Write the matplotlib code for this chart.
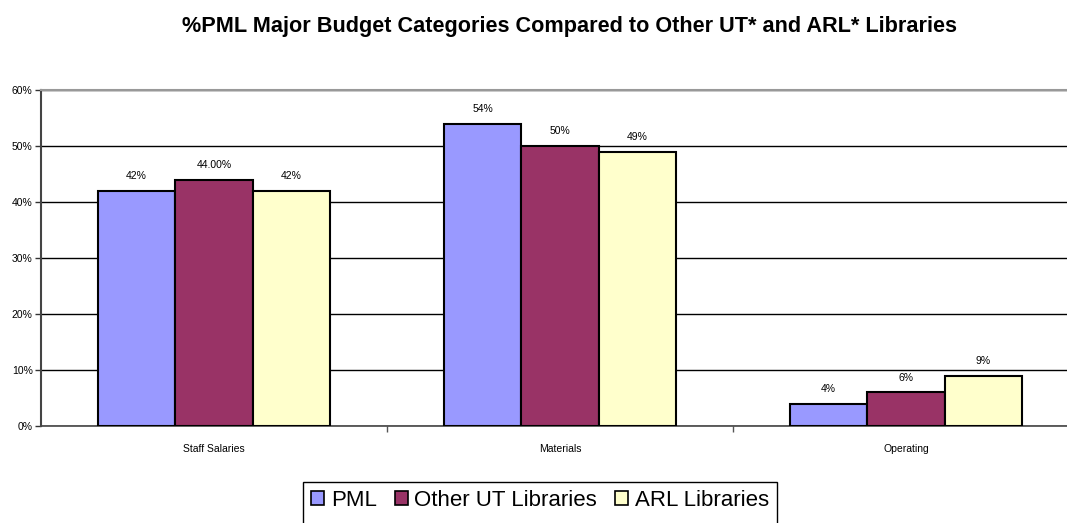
import matplotlib
matplotlib.use("Agg")
import matplotlib.pyplot as plt
import numpy as np
from matplotlib.ticker import FuncFormatter
from matplotlib.patches import Rectangle

categories = ["Staff Salaries", "Materials", "Operating"]
series_names = ["PML", "Other UT Libraries", "ARL Libraries"]
pml = [0.42, 0.54, 0.04]
other_ut = [0.44, 0.50, 0.06]
arl = [0.42, 0.49, 0.09]
pml_labels = ["42%", "54%", "4%"]
other_labels = ["44.00%", "50%", "6%"]
arl_labels = ["42%", "49%", "9%"]
colors = ["#9999FF", "#993366", "#FFFFCC"]
title = "%PML Major Budget Categories Compared to Other UT* and ARL* Libraries"

plt.rcParams['font.family'] = ['Liberation Sans', 'DejaVu Sans']

fig = plt.figure(figsize=(10.67, 5.23), dpi=100)
W, H = 1067, 523
left, right, top, bottom = 41, 1079, 90, 426
ax = fig.add_axes([left / W, 1 - bottom / H, (right - left) / W, (bottom - top) / H])

x = np.arange(len(categories))
bw = 0.224
all_vals = [pml, other_ut, arl]
all_labels = [pml_labels, other_labels, arl_labels]
for i, (vals, labs, c, name) in enumerate(zip(all_vals, all_labels, colors, series_names)):
    bars = ax.bar(x + (i - 1) * bw, vals, bw, color=c, edgecolor="black", linewidth=1.5,
                  label=name, zorder=3)
    for b, lab in zip(bars, labs):
        ax.annotate(lab, (b.get_x() + b.get_width() / 2, b.get_height()),
                    xytext=(0, 7), textcoords="offset points", ha="center", va="bottom",
                    fontsize=7.5, color="black")

ax.set_xlim(-0.5, 2.5)
ax.set_ylim(0, 0.6)
ax.set_yticks(np.arange(0, 0.61, 0.1))
ax.yaxis.set_major_formatter(FuncFormatter(lambda v, p: f"{v*100:.0f}%"))
ax.grid(axis="y", color="black", linewidth=1.0, zorder=0)
ax.set_axisbelow(True)

ax.set_xticks(x)
ax.set_xticklabels(categories, fontsize=7.5)
ax.set_xticks([0.5, 1.5], minor=True)
ax.tick_params(axis="x", which="major", length=0, pad=13)
ax.tick_params(axis="x", which="minor", length=4, width=1, color="#555555")
ax.tick_params(axis="y", labelsize=7.5, length=4, width=1, color="#333333", pad=2)

ax.spines["top"].set_color("#999999")
ax.spines["top"].set_linewidth(1.5)
ax.spines["right"].set_visible(False)
ax.spines["left"].set_color("#444444")
ax.spines["left"].set_linewidth(1.5)
ax.spines["bottom"].set_color("#444444")
ax.spines["bottom"].set_linewidth(1.2)

fig.text(570 / W, 1 - 32 / H, title, ha="center", va="baseline", fontsize=15.6, fontweight="bold")

leg = fig.legend(loc="upper center", bbox_to_anchor=(540 / W, 1 - 482 / H), ncol=3, fontsize=16,
                 frameon=False, handlelength=0.6,
                 handleheight=0.6, handletextpad=0.3, columnspacing=0.8, borderpad=0.35,
                 borderaxespad=0)
for h in leg.legend_handles:
    h.set_linewidth(1.2)

fig.canvas.draw()
bb = leg.get_window_extent()
rect = Rectangle((bb.x0 / W, bb.y0 / H - 0.03), bb.width / W, bb.height / H + 0.03,
                 transform=fig.transFigure, fill=False, edgecolor="black", linewidth=1.0,
                 clip_on=False)
fig.add_artist(rect)

fig.savefig("out.png", dpi=100)
